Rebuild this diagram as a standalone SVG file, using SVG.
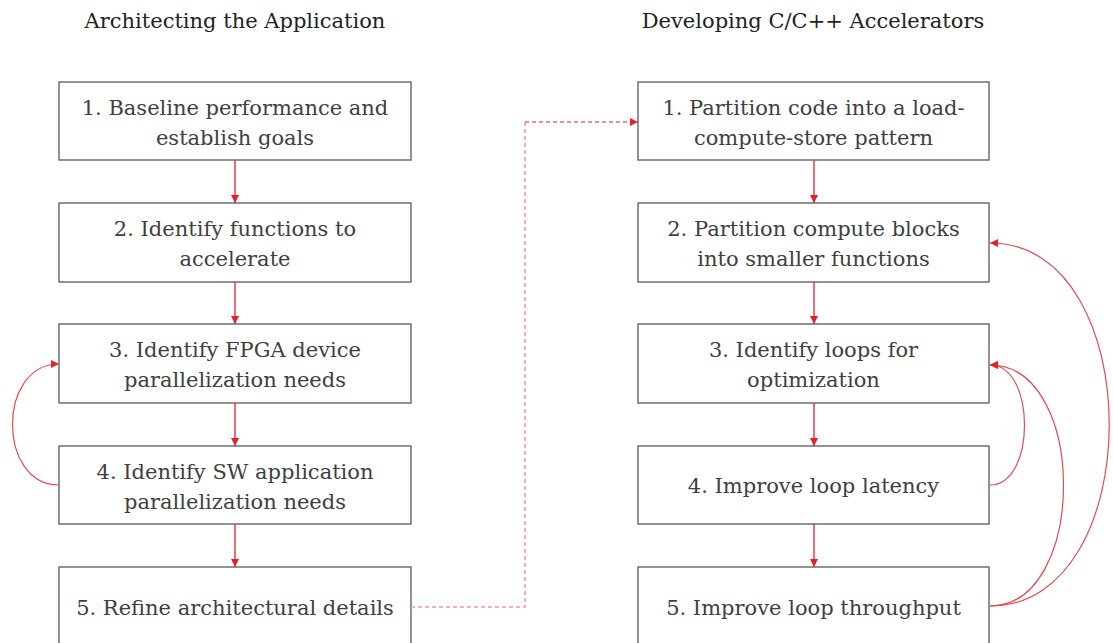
<svg xmlns="http://www.w3.org/2000/svg" width="1113" height="643" viewBox="0 0 1113 643">
  <style>
    .box { fill: #ffffff; stroke: #595959; stroke-width: 1.3; }
    .lbl { font-family: "DejaVu Serif", serif; font-size: 21px; fill: #404040; text-anchor: middle; }
    .title { font-family: "DejaVu Serif", serif; font-size: 21px; fill: #222222; text-anchor: middle; }
    .flow { fill: none; stroke: #e5202a; stroke-width: 1.3; }
    .loop { fill: none; stroke: #e84a4f; stroke-width: 1.2; }
  </style>
  <defs>
    <marker id="arrow" viewBox="0 0 10 10" refX="10" refY="5" markerWidth="8" markerHeight="8" markerUnits="userSpaceOnUse" orient="auto">
      <path d="M0,0 L10,5 L0,10 z" fill="#e5202a"/>
    </marker>
  </defs>
  <rect width="1113" height="643" fill="#ffffff"/>

  <text class="title" x="235" y="28">Architecting the Application</text>
  <text class="title" x="813" y="28">Developing C/C++ Accelerators</text>

  <!-- left column -->
  <g id="a1"><rect class="box" x="59" y="82" width="352" height="78"/>
    <text class="lbl" x="235" y="115">1. Baseline performance and</text>
    <text class="lbl" x="235" y="145">establish goals</text></g>
  <g id="a2"><rect class="box" x="59" y="203" width="352" height="79"/>
    <text class="lbl" x="235" y="236">2. Identify functions to</text>
    <text class="lbl" x="235" y="266">accelerate</text></g>
  <g id="a3"><rect class="box" x="59" y="324" width="352" height="79"/>
    <text class="lbl" x="235" y="357">3. Identify FPGA device</text>
    <text class="lbl" x="235" y="387">parallelization needs</text></g>
  <g id="a4"><rect class="box" x="59" y="446" width="352" height="78"/>
    <text class="lbl" x="235" y="479">4. Identify SW application</text>
    <text class="lbl" x="235" y="509">parallelization needs</text></g>
  <g id="a5"><rect class="box" x="59" y="567" width="352" height="80"/>
    <text class="lbl" x="235" y="615">5. Refine architectural details</text></g>

  <!-- right column -->
  <g id="b1"><rect class="box" x="638" y="82" width="351" height="78"/>
    <text class="lbl" x="813.5" y="115">1. Partition code into a load-</text>
    <text class="lbl" x="813.5" y="145">compute-store pattern</text></g>
  <g id="b2"><rect class="box" x="638" y="203" width="351" height="79"/>
    <text class="lbl" x="813.5" y="236">2. Partition compute blocks</text>
    <text class="lbl" x="813.5" y="266">into smaller functions</text></g>
  <g id="b3"><rect class="box" x="638" y="324" width="351" height="79"/>
    <text class="lbl" x="813.5" y="357">3. Identify loops for</text>
    <text class="lbl" x="813.5" y="387">optimization</text></g>
  <g id="b4"><rect class="box" x="638" y="446" width="351" height="78"/>
    <text class="lbl" x="813.5" y="493">4. Improve loop latency</text></g>
  <g id="b5"><rect class="box" x="638" y="567" width="351" height="80"/>
    <text class="lbl" x="813.5" y="615">5. Improve loop throughput</text></g>

  <g id="connectors">
    <path class="flow" d="M235,160 V203" marker-end="url(#arrow)"/>
    <path class="flow" d="M235,282 V324" marker-end="url(#arrow)"/>
    <path class="flow" d="M235,403 V446" marker-end="url(#arrow)"/>
    <path class="flow" d="M235,524 V567" marker-end="url(#arrow)"/>
    <path class="flow" d="M814,160 V203" marker-end="url(#arrow)"/>
    <path class="flow" d="M814,282 V324" marker-end="url(#arrow)"/>
    <path class="flow" d="M814,403 V446" marker-end="url(#arrow)"/>
    <path class="flow" d="M814,524 V567" marker-end="url(#arrow)"/>

    <!-- hand-off between the two flows -->
    <path d="M411,607 H525 V122" fill="none" stroke="#f29a9e" stroke-width="1.6" stroke-dasharray="4,3"/>
    <path d="M525,122 H638" fill="none" stroke="#e5202a" stroke-width="1.2" stroke-dasharray="4,3" marker-end="url(#arrow)"/>

    <!-- iteration loops -->
    <path class="loop" d="M59,485 C-3,485 -3,364 59,364" marker-end="url(#arrow)"/>
    <path class="loop" d="M990,485 C1036,485 1036,365 990,365" marker-end="url(#arrow)"/>
    <path class="loop" d="M990,606 C1088,606 1088,365 990,365" marker-end="url(#arrow)"/>
    <path class="loop" d="M990,606 C1149,606 1149,243 990,243" marker-end="url(#arrow)"/>
  </g>
</svg>
